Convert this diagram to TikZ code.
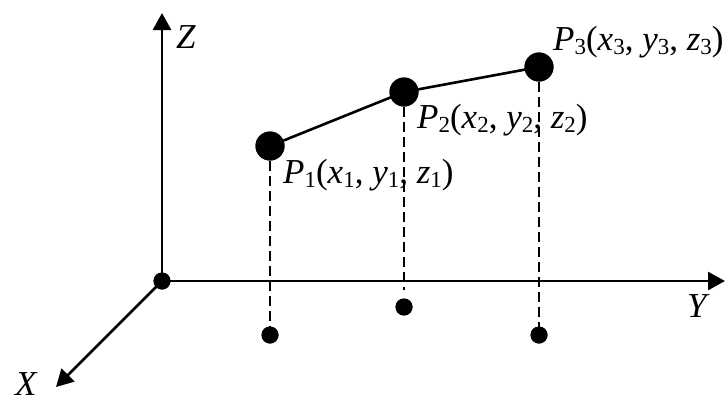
\documentclass[tikz,border=0pt]{standalone}
\usepackage{fontspec}
\setmainfont{Liberation Serif}
\usetikzlibrary{arrows.meta}
\newcommand\sbs[1]{\raisebox{-4pt}{\fontsize{23}{23}\selectfont #1}}
\newcommand\lbl[2]{\textit{#1}\sbs{#2}(\textit{x}\sbs{#2}, \textit{y}\sbs{#2}, \textit{z}\sbs{#2})}
\begin{document}
\begin{tikzpicture}[x=1pt,y=-1pt,
  bigdot/.style={circle,fill=black,inner sep=0pt,minimum size=29pt},
  smalldot/.style={circle,fill=black,inner sep=0pt,minimum size=17pt},
  axis/.style={line width=2.8pt,-{Triangle[length=17pt,width=18pt]}},
  link/.style={line width=2.6pt},
  proj/.style={line width=2.3pt,dash pattern=on 10pt off 5pt},
  txt/.style={inner sep=0pt,anchor=base west,font=\fontsize{35}{37}\selectfont}]
\useasboundingbox (0,0) rectangle (725,397);
% coordinates
\coordinate (zt) at (162,13);
\coordinate (yt) at (725,281);
\coordinate (xt) at (56,387);
% dots
\node[smalldot] (o) at (162,281) {};
\node[smalldot] (b1) at (270,335) {};
\node[smalldot] (b2) at (404,307) {};
\node[smalldot] (b3) at (539,335) {};
\node[bigdot] (p1) at (270,146) {};
\node[bigdot] (p2) at (404,92) {};
\node[bigdot] (p3) at (539,67) {};
% projections
\draw[proj] (p1.center) -- (b1.center);
\draw[proj,shorten >=17pt] (p2.center) -- (b2.center);
\draw[proj] (p3.center) -- (b3.center);
% axes
\draw[axis] (o.center) -- (zt);
\draw[axis] (o.center) -- (yt);
\draw[axis] (o.center) -- (xt);
% links
\draw[link] (p1.center) -- (p2.center) -- (p3.center);
% redraw dots on top
\node[bigdot] at (p1) {};
\node[bigdot] at (p2) {};
\node[bigdot] at (p3) {};
\node[smalldot] at (o) {};
\node[smalldot] at (b1) {};
\node[smalldot] at (b2) {};
\node[smalldot] at (b3) {};
% labels
\node[txt] (lz) at (176,48) {\textit{Z}};
\node[txt] (ly) at (687,317) {\textit{Y}};
\node[txt] (lx) at (15,395) {\textit{X}};
\node[txt] (l1) at (283,183) {\lbl{P}{1}};
\node[txt] (l2) at (417,128) {\lbl{P}{2}};
\node[txt] (l3) at (553,50) {\lbl{P}{3}};
\end{tikzpicture}
\end{document}
